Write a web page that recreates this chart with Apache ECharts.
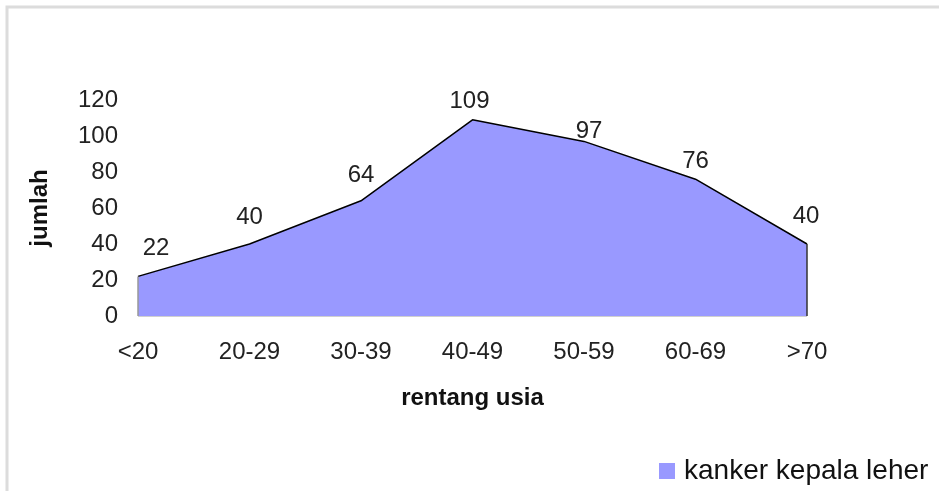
<!DOCTYPE html>
<html>
<head>
<meta charset="utf-8">
<script src="https://cdn.jsdelivr.net/npm/echarts@6/dist/echarts.min.js"></script>
<style>
  html, body { margin: 0; padding: 0; background: #fff; }
  #chart { width: 939px; height: 491px; }
</style>
</head>
<body>
<div id="chart"></div>
<script>
// Age ranges and case counts
const categories = ['<20', '20-29', '30-39', '40-49', '50-59', '60-69', '>70'];
const counts = [22, 40, 64, 109, 97, 76, 40];
const yTicks = [0, 20, 40, 60, 80, 100, 120];
const seriesName = 'kanker kepala leher';
const xTitle = 'rentang usia';
const yTitle = 'jumlah';

// label nudges [dx, dy] for each point's value label
const labelNudge = [[18, -16], [0, -15], [0, -13], [-3, -6], [5, 2], [0, -6], [-1, -16]];

const font = 'Liberation Sans, Arial, sans-serif';
const fill = '#9999ff';
const last = categories.length - 1;
const chart = echarts.init(document.getElementById('chart'), null, { renderer: 'canvas' });

chart.setOption({
  animation: false,
  backgroundColor: '#fff',
  graphic: [{
    type: 'rect',
    shape: { x: 7, y: 7, width: 960, height: 520 },
    style: { fill: 'none', stroke: '#dcdcdc', lineWidth: 3 },
    silent: true, z: -1
  }],
  grid: { left: 138, right: 132, top: 100, bottom: 175 },
  legend: {
    left: 654, top: 452,
    itemWidth: 16, itemHeight: 16, itemGap: 8,
    icon: 'rect',
    textStyle: { fontFamily: font, fontSize: 28, color: '#111', padding: [0, 0, 0, 4] },
    data: [{ name: seriesName, itemStyle: { color: fill, borderWidth: 0 } }]
  },
  xAxis: {
    type: 'category',
    data: categories,
    boundaryGap: false,
    name: xTitle,
    nameLocation: 'middle',
    nameGap: 70,
    nameTextStyle: { fontFamily: font, fontSize: 24, fontWeight: 'bold', color: '#111' },
    axisLine: { show: false },
    axisTick: { show: false },
    axisLabel: { fontFamily: font, fontSize: 24, color: '#222', margin: 24 },
    splitLine: { show: false }
  },
  yAxis: {
    type: 'value',
    min: yTicks[0], max: yTicks[yTicks.length - 1], interval: 20,
    name: yTitle,
    nameLocation: 'middle',
    nameGap: 86,
    nameRotate: 90,
    nameTextStyle: { fontFamily: font, fontSize: 24, fontWeight: 'bold', color: '#111' },
    axisLine: { show: false },
    axisTick: { show: false },
    axisLabel: { fontFamily: font, fontSize: 24, color: '#222', margin: 20 },
    splitLine: { show: false }
  },
  series: [{
    name: seriesName,
    type: 'line',
    data: counts.map((v, i) => ({
      value: v,
      label: { offset: labelNudge[i] }
    })),
    symbol: 'circle',
    symbolSize: 0,
    showSymbol: true,
    lineStyle: { color: '#000', width: 1.5 },
    itemStyle: { color: fill },
    areaStyle: {
      color: fill, opacity: 1,
      shadowColor: 'rgba(0,0,0,0.25)', shadowOffsetX: 0, shadowOffsetY: 2, shadowBlur: 0
    },
    label: {
      show: true,
      position: 'top',
      distance: 0,
      fontFamily: font, fontSize: 24, color: '#222'
    },
    // closing edges of the filled outline at both ends
    markLine: {
      silent: true,
      symbol: 'none',
      label: { show: false },
      data: [
        [{ coord: [categories[0], 0], lineStyle: { color: '#999', width: 1.5, type: 'solid' } },
         { coord: [categories[0], counts[0]] }],
        [{ coord: [categories[last], 0], lineStyle: { color: '#333', width: 1.5, type: 'solid' } },
         { coord: [categories[last], counts[last]] }]
      ]
    }
  }]
});
</script>
</body>
</html>
